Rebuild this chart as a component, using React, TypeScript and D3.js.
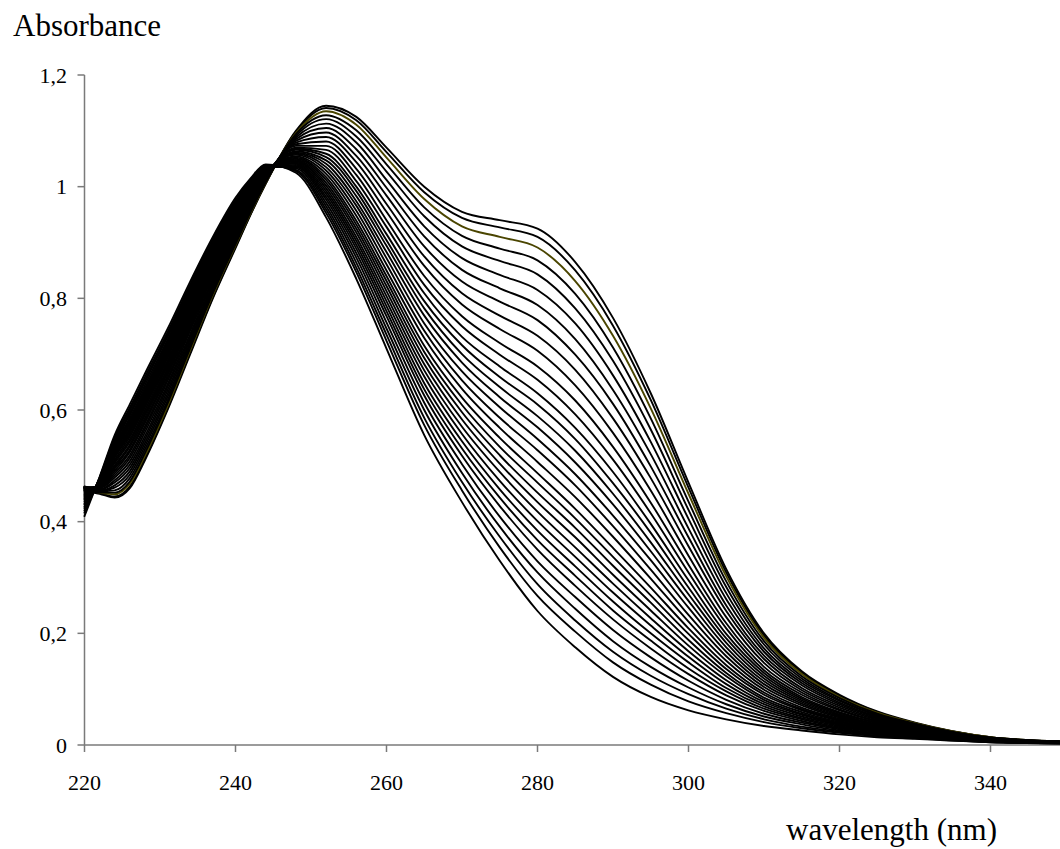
import React from 'react';
import * as d3 from 'd3';

// wavelengths (nm) at which the spectra were read
const wavelengths = [220, 222, 224, 226, 228, 231, 234, 237, 240, 242, 244, 248, 252, 256, 260, 265, 270, 275, 280, 285, 290, 295, 300, 305, 310, 315, 320, 325, 330, 340, 350];

// absorbance of each of the 33 spectra (first = top/initial, last = final) at each wavelength above
const spectraAtWavelength = [
  [0.455,0.456,0.458,0.459,0.460,0.461,0.462,0.462,0.463,0.462,0.462,0.461,0.460,0.459,0.458,0.457,0.455,0.453,0.451,0.449,0.447,0.445,0.443,0.441,0.439,0.436,0.433,0.431,0.427,0.424,0.420,0.416,0.410],
  [0.450,0.451,0.452,0.452,0.454,0.455,0.456,0.457,0.458,0.460,0.461,0.462,0.463,0.464,0.465,0.466,0.467,0.467,0.468,0.469,0.470,0.471,0.471,0.472,0.473,0.474,0.474,0.475,0.476,0.477,0.478,0.479,0.480],
  [0.443,0.445,0.449,0.452,0.456,0.461,0.465,0.470,0.474,0.479,0.483,0.487,0.491,0.495,0.498,0.501,0.505,0.508,0.511,0.515,0.517,0.520,0.523,0.526,0.529,0.531,0.534,0.537,0.540,0.544,0.547,0.551,0.555],
  [0.460,0.463,0.468,0.472,0.478,0.484,0.490,0.496,0.502,0.508,0.514,0.519,0.525,0.529,0.534,0.538,0.543,0.547,0.552,0.556,0.560,0.564,0.567,0.571,0.575,0.579,0.582,0.586,0.591,0.595,0.600,0.604,0.610],
  [0.510,0.513,0.518,0.523,0.529,0.535,0.541,0.547,0.553,0.560,0.566,0.571,0.577,0.581,0.586,0.591,0.595,0.600,0.605,0.609,0.613,0.617,0.621,0.625,0.629,0.632,0.636,0.640,0.645,0.650,0.654,0.659,0.665],
  [0.600,0.603,0.607,0.612,0.617,0.623,0.629,0.635,0.641,0.646,0.652,0.657,0.662,0.667,0.671,0.675,0.680,0.684,0.688,0.693,0.696,0.700,0.704,0.707,0.711,0.715,0.718,0.722,0.726,0.731,0.735,0.739,0.745],
  [0.700,0.703,0.707,0.711,0.716,0.721,0.726,0.731,0.736,0.742,0.747,0.751,0.756,0.760,0.764,0.768,0.772,0.775,0.779,0.783,0.786,0.790,0.793,0.796,0.799,0.803,0.806,0.809,0.813,0.817,0.821,0.825,0.830],
  [0.800,0.802,0.806,0.809,0.813,0.818,0.822,0.826,0.831,0.835,0.840,0.843,0.847,0.851,0.854,0.857,0.861,0.864,0.867,0.870,0.873,0.876,0.879,0.881,0.884,0.887,0.890,0.892,0.896,0.899,0.902,0.906,0.910],
  [0.890,0.892,0.895,0.897,0.901,0.904,0.908,0.912,0.915,0.919,0.922,0.926,0.929,0.931,0.934,0.937,0.940,0.942,0.945,0.948,0.950,0.952,0.954,0.957,0.959,0.961,0.963,0.966,0.968,0.971,0.974,0.976,0.980],
  [0.950,0.951,0.953,0.955,0.958,0.960,0.963,0.966,0.968,0.971,0.973,0.976,0.978,0.980,0.982,0.984,0.986,0.988,0.990,0.992,0.993,0.995,0.996,0.998,1.000,1.001,1.003,1.005,1.007,1.009,1.010,1.012,1.015],
  [1.005,1.006,1.007,1.008,1.009,1.011,1.012,1.013,1.015,1.016,1.018,1.019,1.020,1.021,1.022,1.023,1.024,1.025,1.026,1.027,1.028,1.029,1.030,1.031,1.032,1.033,1.034,1.034,1.035,1.037,1.038,1.039,1.040],
  [1.100,1.098,1.096,1.094,1.091,1.088,1.085,1.082,1.079,1.076,1.073,1.070,1.068,1.066,1.063,1.061,1.059,1.057,1.054,1.052,1.050,1.048,1.046,1.045,1.043,1.041,1.039,1.037,1.035,1.033,1.030,1.028,1.025],
  [1.145,1.141,1.135,1.128,1.121,1.113,1.105,1.097,1.089,1.081,1.073,1.066,1.059,1.053,1.047,1.041,1.035,1.029,1.023,1.017,1.012,1.007,1.002,0.997,0.992,0.987,0.982,0.977,0.971,0.965,0.959,0.953,0.945],
  [1.125,1.119,1.111,1.101,1.090,1.079,1.067,1.055,1.044,1.032,1.021,1.010,1.000,0.992,0.983,0.974,0.966,0.957,0.948,0.939,0.932,0.925,0.918,0.910,0.903,0.896,0.889,0.881,0.873,0.864,0.855,0.847,0.835],
  [1.070,1.062,1.052,1.040,1.027,1.012,0.998,0.984,0.969,0.955,0.940,0.928,0.915,0.904,0.894,0.883,0.872,0.861,0.850,0.840,0.831,0.822,0.813,0.804,0.795,0.786,0.777,0.768,0.757,0.746,0.735,0.724,0.710],
  [1.000,0.990,0.978,0.963,0.947,0.929,0.911,0.893,0.875,0.858,0.840,0.824,0.809,0.795,0.782,0.769,0.755,0.742,0.729,0.715,0.704,0.693,0.682,0.671,0.660,0.648,0.637,0.626,0.613,0.600,0.586,0.573,0.555],
  [0.955,0.944,0.929,0.912,0.893,0.872,0.851,0.830,0.809,0.789,0.768,0.750,0.731,0.716,0.700,0.685,0.669,0.653,0.638,0.622,0.609,0.596,0.583,0.570,0.557,0.544,0.531,0.518,0.503,0.487,0.471,0.456,0.435],
  [0.940,0.927,0.910,0.889,0.867,0.842,0.818,0.794,0.769,0.745,0.720,0.699,0.678,0.659,0.641,0.623,0.605,0.586,0.568,0.550,0.534,0.519,0.504,0.489,0.473,0.458,0.443,0.428,0.409,0.391,0.373,0.354,0.330],
  [0.925,0.910,0.891,0.868,0.843,0.815,0.788,0.761,0.733,0.706,0.678,0.654,0.630,0.610,0.589,0.569,0.548,0.528,0.507,0.487,0.470,0.452,0.435,0.418,0.401,0.384,0.367,0.350,0.329,0.309,0.288,0.267,0.240],
  [0.865,0.850,0.831,0.808,0.782,0.755,0.727,0.699,0.672,0.644,0.617,0.592,0.568,0.548,0.527,0.506,0.485,0.465,0.444,0.423,0.406,0.389,0.372,0.354,0.337,0.320,0.303,0.285,0.265,0.244,0.223,0.203,0.175],
  [0.765,0.751,0.733,0.712,0.688,0.662,0.636,0.611,0.585,0.559,0.534,0.511,0.489,0.469,0.450,0.431,0.411,0.392,0.373,0.353,0.337,0.321,0.305,0.289,0.273,0.257,0.241,0.225,0.206,0.186,0.167,0.148,0.122],
  [0.630,0.618,0.603,0.585,0.565,0.543,0.521,0.499,0.478,0.456,0.434,0.415,0.396,0.380,0.363,0.347,0.331,0.314,0.298,0.282,0.268,0.255,0.241,0.227,0.214,0.200,0.187,0.173,0.157,0.140,0.124,0.108,0.086],
  [0.470,0.461,0.450,0.436,0.421,0.405,0.388,0.372,0.356,0.339,0.323,0.309,0.295,0.282,0.270,0.258,0.246,0.233,0.221,0.209,0.199,0.188,0.178,0.168,0.158,0.148,0.137,0.127,0.115,0.103,0.091,0.078,0.062],
  [0.315,0.309,0.302,0.293,0.283,0.272,0.261,0.250,0.240,0.229,0.218,0.209,0.199,0.191,0.183,0.175,0.167,0.159,0.151,0.143,0.136,0.129,0.123,0.116,0.109,0.102,0.096,0.089,0.081,0.073,0.065,0.057,0.046],
  [0.200,0.196,0.192,0.186,0.180,0.173,0.167,0.160,0.154,0.147,0.140,0.134,0.129,0.124,0.119,0.114,0.109,0.104,0.099,0.094,0.090,0.085,0.081,0.077,0.073,0.069,0.065,0.061,0.056,0.051,0.046,0.041,0.034],
  [0.132,0.130,0.127,0.123,0.119,0.115,0.111,0.107,0.102,0.098,0.094,0.090,0.086,0.083,0.080,0.077,0.074,0.071,0.067,0.064,0.062,0.059,0.056,0.054,0.051,0.048,0.046,0.043,0.040,0.037,0.033,0.030,0.026],
  [0.090,0.088,0.086,0.084,0.081,0.079,0.076,0.073,0.070,0.067,0.064,0.062,0.059,0.057,0.055,0.053,0.051,0.049,0.047,0.045,0.043,0.041,0.039,0.037,0.036,0.034,0.032,0.030,0.028,0.026,0.024,0.022,0.019],
  [0.060,0.059,0.058,0.056,0.054,0.053,0.051,0.049,0.047,0.045,0.043,0.042,0.040,0.039,0.037,0.036,0.035,0.033,0.032,0.031,0.029,0.028,0.027,0.026,0.025,0.024,0.023,0.021,0.020,0.019,0.017,0.016,0.014],
  [0.040,0.039,0.039,0.038,0.037,0.035,0.034,0.033,0.032,0.031,0.030,0.029,0.028,0.027,0.026,0.025,0.024,0.023,0.022,0.021,0.021,0.020,0.019,0.019,0.018,0.017,0.016,0.016,0.015,0.014,0.013,0.012,0.011],
  [0.014,0.014,0.014,0.013,0.013,0.013,0.012,0.012,0.011,0.011,0.011,0.010,0.010,0.010,0.010,0.009,0.009,0.009,0.009,0.008,0.008,0.008,0.008,0.007,0.007,0.007,0.007,0.006,0.006,0.006,0.006,0.005,0.005],
  [0.006,0.006,0.006,0.006,0.006,0.006,0.005,0.005,0.005,0.005,0.005,0.005,0.005,0.005,0.005,0.004,0.004,0.004,0.004,0.004,0.004,0.004,0.004,0.004,0.004,0.004,0.004,0.003,0.003,0.003,0.003,0.003,0.003],
];

const yTicks = [0, 0.2, 0.4, 0.6, 0.8, 1, 1.2];
const yTickLabels = ['0', '0,2', '0,4', '0,6', '0,8', '1', '1,2'];
const xTicks = [220, 240, 260, 280, 300, 320, 340];
const highlightedCurve = 2;

export default function App() {
  const W = 1060;
  const H = 849;
  const x = d3.scaleLinear().domain([220, 340]).range([84.5, 990.5]);
  const y = d3.scaleLinear().domain([0, 1.2]).range([745, 75]);
  const nCurves = spectraAtWavelength[0].length;
  const series = d3.range(nCurves).map((i) =>
    wavelengths.map((w, j) => [w, spectraAtWavelength[j][i]] as [number, number])
  );
  const line = d3
    .line<[number, number]>()
    .x((d) => x(d[0]))
    .y((d) => y(d[1]))
    .curve(d3.curveMonotoneX);

  const font = '"Liberation Serif", "Times New Roman", serif';
  const axisColor = '#7a7a7a';

  return (
    <svg
      width={W}
      height={H}
      viewBox={`0 0 ${W} ${H}`}
      style={{ position: 'absolute', left: 0, top: 0, background: '#fff', display: 'block' }}
    >
      <rect x={0} y={0} width={W} height={H} fill="#fff" />
      {/* axes */}
      <line x1={x(220)} x2={x(220)} y1={y(1.2)} y2={y(0)} stroke={axisColor} strokeWidth={1.5} />
      <line x1={x(220)} x2={W} y1={y(0)} y2={y(0)} stroke={axisColor} strokeWidth={1.5} />
      {yTicks.map((t, i) => (
        <g key={'y' + i}>
          <line x1={x(220) - 7} x2={x(220)} y1={y(t)} y2={y(t)} stroke={axisColor} strokeWidth={1.5} />
          <text
            x={67}
            y={y(t)}
            dy="0.35em"
            textAnchor="end"
            fontFamily={font}
            fontSize={22}
            fill="#000"
          >
            {yTickLabels[i]}
          </text>
        </g>
      ))}
      {xTicks.map((t) => (
        <g key={'x' + t}>
          <line x1={x(t)} x2={x(t)} y1={y(0)} y2={y(0) + 7} stroke={axisColor} strokeWidth={1.5} />
          <text x={x(t)} y={790} textAnchor="middle" fontFamily={font} fontSize={22} fill="#000">
            {t}
          </text>
        </g>
      ))}
      {/* spectra */}
      <g fill="none" strokeLinejoin="round" strokeLinecap="round">
        {series.map((s, i) => (
          <path
            key={i}
            d={line(s) || ''}
            stroke={i === highlightedCurve ? '#4a4500' : '#000'}
            strokeWidth={1.9}
          />
        ))}
      </g>
      <text x={13} y={36} fontFamily={font} fontSize={31} fill="#000">
        Absorbance
      </text>
      <text x={997} y={840} textAnchor="end" fontFamily={font} fontSize={31} fill="#000">
        wavelength (nm)
      </text>
    </svg>
  );
}
